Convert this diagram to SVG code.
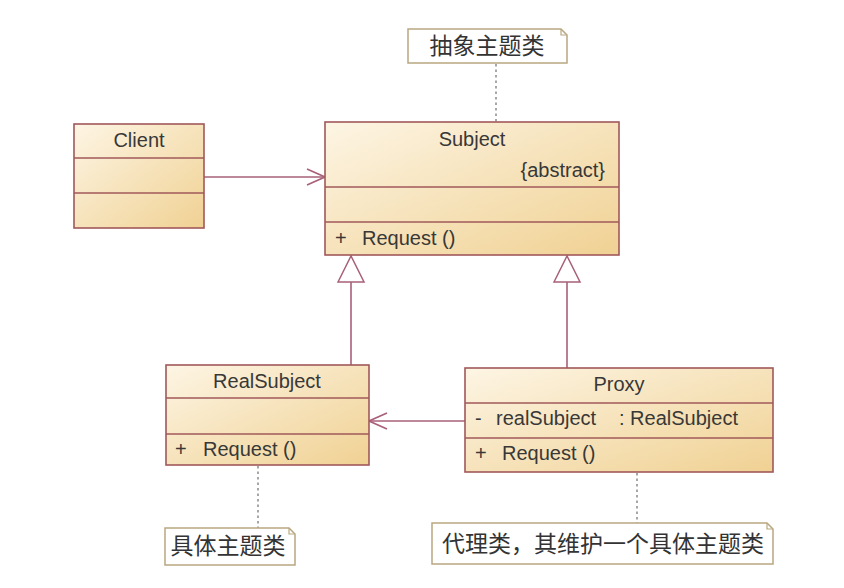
<svg xmlns="http://www.w3.org/2000/svg" width="844" height="588" viewBox="0 0 844 588">
<defs>
<linearGradient id="g" x1="0" y1="0" x2="1" y2="1">
<stop offset="0" stop-color="#fdf5e4"/>
<stop offset="1" stop-color="#f0d193"/>
</linearGradient>
<marker id="open" viewBox="0 0 20 20" refX="19" refY="10" markerWidth="20" markerHeight="20" markerUnits="userSpaceOnUse" orient="auto">
<path d="M1,2 L19,10 L1,18" fill="none" stroke="#a8607a" stroke-width="1.6"/>
</marker>
<marker id="tri" viewBox="0 0 30 30" refX="28" refY="15" markerWidth="30" markerHeight="30" markerUnits="userSpaceOnUse" orient="auto">
<path d="M2,2 L28,15 L2,28 Z" fill="#fff" stroke="#a8607a" stroke-width="1.5"/>
</marker>
</defs>
<style>
.box{fill:url(#g);stroke:#a0585a;stroke-width:1.6}
.div{stroke:#a0585a;stroke-width:1.4}
.t{font-family:"Liberation Sans",Arial,sans-serif;font-size:20px;fill:#383838}
.c{text-anchor:middle}
.note{fill:#fff;stroke:#b9a780;stroke-width:1.5}
.nt{font-family:"Noto Sans CJK SC","Liberation Sans",sans-serif;font-size:23px;fill:#333}
.dot{stroke:#8a8a8a;stroke-width:1.5;stroke-dasharray:2.5 3;fill:none}
.conn{stroke:#a8607a;stroke-width:1.6;fill:none}
</style>
<rect width="844" height="588" fill="#fff"/>
<g id="connectors">
<line class="conn" x1="204" y1="177" x2="325" y2="177" marker-end="url(#open)"/>
<line class="conn" x1="465" y1="421" x2="369" y2="421" marker-end="url(#open)"/>
<line class="conn" x1="351" y1="365" x2="351" y2="256" marker-end="url(#tri)"/>
<line class="conn" x1="567" y1="368" x2="567" y2="256" marker-end="url(#tri)"/>
<line class="dot" x1="496" y1="64" x2="496" y2="122"/>
<line class="dot" x1="258" y1="466" x2="258" y2="528"/>
<line class="dot" x1="637" y1="473" x2="637" y2="523"/>
</g>
<g id="note-abstract">
<path class="note" d="M408,29 H561 L567,35 V63 H408 Z"/>
<path d="M561,29 V35 H567" fill="none" stroke="#b9a780" stroke-width="1.2"/>
<text class="nt" x="487" y="54" text-anchor="middle">抽象主题类</text>
</g>
<g id="Client">
<rect class="box" x="74" y="124" width="130" height="104"/>
<line class="div" x1="74" y1="158" x2="204" y2="158"/>
<line class="div" x1="74" y1="193" x2="204" y2="193"/>
<text class="t c" x="139" y="147">Client</text>
</g>
<g id="Subject">
<rect class="box" x="325" y="122" width="294" height="133"/>
<line class="div" x1="325" y1="187" x2="619" y2="187"/>
<line class="div" x1="325" y1="222" x2="619" y2="222"/>
<text class="t c" x="472" y="146">Subject</text>
<text class="t" x="605" y="177" text-anchor="end">{abstract}</text>
<text class="t" x="335" y="245">+</text>
<text class="t" x="362" y="245">Request ()</text>
</g>
<g id="RealSubject">
<rect class="box" x="166" y="365" width="203" height="100"/>
<line class="div" x1="166" y1="398" x2="369" y2="398"/>
<line class="div" x1="166" y1="434" x2="369" y2="434"/>
<text class="t c" x="267" y="388">RealSubject</text>
<text class="t" x="175" y="456">+</text>
<text class="t" x="203" y="456">Request ()</text>
</g>
<g id="Proxy">
<rect class="box" x="465" y="368" width="308" height="104"/>
<line class="div" x1="465" y1="403" x2="773" y2="403"/>
<line class="div" x1="465" y1="438" x2="773" y2="438"/>
<text class="t c" x="619" y="391">Proxy</text>
<text class="t" x="475" y="425">-</text>
<text class="t" x="496" y="425">realSubject</text>
<text class="t" x="619" y="425">: RealSubject</text>
<text class="t" x="475" y="460">+</text>
<text class="t" x="502" y="460">Request ()</text>
</g>
<g id="note-real">
<path class="note" d="M165,528 H289 L295,534 V565 H165 Z"/>
<path d="M289,528 V534 H295" fill="none" stroke="#b9a780" stroke-width="1.2"/>
<text class="nt" x="228" y="554" text-anchor="middle">具体主题类</text>
</g>
<g id="note-proxy">
<path class="note" d="M432,523 H767 L773,529 V564 H432 Z"/>
<path d="M767,523 V529 H773" fill="none" stroke="#b9a780" stroke-width="1.2"/>
<text class="nt" x="442" y="552">代理类，其维护一个具体主题类</text>
</g>
</svg>
